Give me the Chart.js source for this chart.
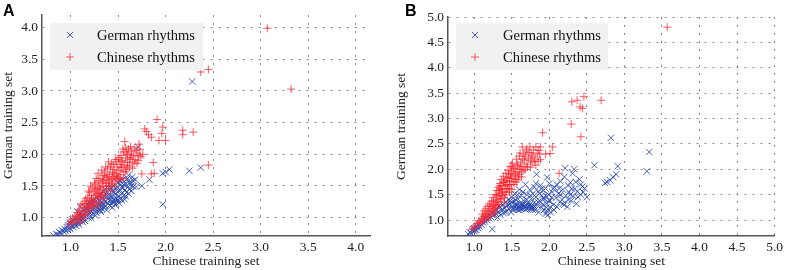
<!DOCTYPE html>
<html>
<head>
<meta charset="utf-8">
<script src="https://cdn.jsdelivr.net/npm/chart.js@4.4.1/dist/chart.umd.min.js"></script>
<style>
  body { margin: 0; background: #fff; }
  .wrap { display: flex; width: 786px; height: 270px; }
  .panel { width: 393px; height: 270px; }
</style>
</head>
<body>
<div class="wrap">
  <div class="panel"><canvas id="chartA" width="393" height="270"></canvas></div>
  <div class="panel"><canvas id="chartB" width="393" height="270"></canvas></div>
</div>
<script>
// Data
const seriesNames = ['German rhythms', 'Chinese rhythms'];
const xTitle = 'Chinese training set';
const yTitle = 'German training set';

const ticksA = [1.0, 1.5, 2.0, 2.5, 3.0, 3.5, 4.0];
const ticksB = [1.0, 1.5, 2.0, 2.5, 3.0, 3.5, 4.0, 4.5, 5.0];

const germanA = [
  [0.82,0.72],[0.85,0.74],[0.87,0.73],[0.88,0.77],[0.9,0.76],[0.91,0.8],[0.93,0.78],[0.94,0.82],[0.95,0.79],[0.96,0.85],
  [0.97,0.81],[0.98,0.88],[0.99,0.84],[1.0,0.82],[1.0,0.9],[1.01,0.87],[1.02,0.93],[1.03,0.85],[1.03,0.96],[1.04,0.89],
  [1.05,0.92],[1.05,1.0],[1.06,0.87],[1.07,0.95],[1.08,1.03],[1.08,0.91],[1.09,0.98],[1.1,1.06],[1.1,0.94],[1.1,1.18],
  [1.11,1.01],[1.12,0.97],[1.12,1.09],[1.13,1.04],[1.14,1.12],[1.14,0.99],[1.15,1.07],[1.16,1.15],[1.16,1.02],[1.17,1.1],
  [1.18,1.05],[1.18,1.19],[1.19,1.13],[1.2,1.08],[1.2,1.24],[1.21,1.16],[1.22,1.1],[1.22,1.21],[1.23,1.14],[1.24,1.28],
  [1.24,1.07],[1.25,1.19],[1.26,1.13],[1.26,1.25],[1.27,1.17],[1.28,1.32],[1.28,1.11],[1.29,1.22],[1.3,1.16],[1.3,1.27],
  [1.31,1.36],[1.31,1.2],[1.32,1.24],[1.33,1.14],[1.33,1.3],[1.34,1.41],[1.35,1.21],[1.35,1.28],[1.36,1.34],[1.37,1.18],
  [1.37,1.26],[1.38,1.39],[1.39,1.23],[1.4,1.31],[1.4,1.45],[1.41,1.27],[1.42,1.36],[1.43,1.22],[1.43,1.33],[1.44,1.42],
  [1.45,1.29],[1.45,1.5],[1.46,1.25],[1.47,1.37],[1.48,1.31],[1.48,1.46],[1.49,1.27],[1.5,1.4],[1.5,1.55],[1.51,1.34],
  [1.52,1.44],[1.53,1.3],[1.53,1.52],[1.54,1.38],[1.55,1.47],[1.55,1.6],[1.56,1.35],[1.57,1.43],[1.58,1.53],[1.59,1.4],
  [1.6,1.62],[1.6,1.48],[1.61,1.67],[1.62,1.45],[1.63,1.56],[1.64,1.5],[1.65,1.64],[1.66,1.49],[1.69,1.49],[1.71,2.12],
  [1.75,1.5],[1.83,1.6],[1.97,1.21],[1.97,1.7],[2.0,1.72],[2.04,1.76],[2.25,1.74],[2.37,1.79],[2.28,3.15],
  [1.12,1.0],[1.17,1.14],[1.21,1.03],[1.23,1.25],[1.27,1.08],[1.29,1.3],[1.32,1.09],[1.34,1.19],[1.36,1.45],[1.38,1.12],
  [1.41,1.19],[1.42,1.5],[1.44,1.16],[1.46,1.4],[1.47,1.2],[1.49,1.48],[1.51,1.23],[1.52,1.58],[1.54,1.27],[1.56,1.52],
  [1.57,1.29],[1.59,1.6],[1.61,1.38],[1.62,1.55],[1.64,1.42],[1.58,1.34],[1.48,1.22],[1.39,1.35],[1.26,1.03],[1.15,0.95],
  [1.06,0.97],[0.99,0.93],[1.09,0.89],[1.19,1.0],[1.25,1.3],[1.33,1.38],[1.43,1.46],[1.52,1.6],[1.18,1.23],[1.07,1.1],
  [1.02,0.97],[1.44,1.25],[1.35,1.16],[1.54,1.49],[1.66,1.58],[1.68,1.6],[1.5,1.28],[1.31,1.12],[1.22,0.99],[1.13,0.93]
];

const chineseA = [
  [0.98,0.9],[1.0,0.94],[1.02,0.98],[1.03,0.91],[1.05,1.02],[1.06,0.96],[1.07,1.08],[1.08,1.0],[1.09,1.12],[1.1,0.93],
  [1.1,1.05],[1.11,1.2],[1.12,1.1],[1.13,0.98],[1.14,1.16],[1.15,1.26],[1.15,1.05],[1.16,1.12],[1.17,1.22],[1.18,1.32],
  [1.18,1.08],[1.19,1.18],[1.2,1.27],[1.2,1.4],[1.21,1.14],[1.22,1.23],[1.22,1.35],[1.23,1.47],[1.24,1.2],[1.24,1.3],
  [1.25,1.42],[1.26,1.53],[1.26,1.25],[1.27,1.36],[1.28,1.46],[1.28,1.18],[1.29,1.58],[1.29,1.32],[1.3,1.4],[1.3,1.5],
  [1.31,1.24],[1.31,1.62],[1.32,1.44],[1.32,1.34],[1.33,1.55],[1.34,1.67],[1.34,1.4],[1.35,1.49],[1.35,1.6],[1.36,1.72],
  [1.36,1.36],[1.37,1.54],[1.38,1.64],[1.38,1.45],[1.39,1.77],[1.4,1.58],[1.4,1.5],[1.41,1.68],[1.42,1.8],[1.42,1.42],
  [1.43,1.6],[1.44,1.72],[1.44,1.53],[1.45,1.84],[1.46,1.65],[1.46,1.76],[1.47,1.58],[1.48,1.7],[1.48,1.88],[1.49,1.8],
  [1.5,1.63],[1.5,1.92],[1.51,1.74],[1.52,1.84],[1.53,1.68],[1.53,1.98],[1.54,1.79],[1.55,1.9],[1.56,1.72],[1.56,2.04],
  [1.57,1.83],[1.57,2.2],[1.58,1.94],[1.59,1.76],[1.6,2.0],[1.6,1.87],[1.61,2.08],[1.62,1.8],[1.63,1.95],[1.64,2.05],
  [1.65,1.88],[1.66,1.98],[1.67,2.1],[1.68,1.92],[1.7,2.02],[1.7,1.86],[1.72,2.16],[1.73,2.08],[1.74,1.96],[1.75,1.69],
  [1.76,2.0],[1.78,2.4],[1.8,2.36],[1.82,2.31],[1.85,2.27],[1.85,1.69],[1.87,1.87],[1.88,1.7],[1.91,2.55],[1.93,2.22],
  [1.96,2.33],[1.97,2.43],[2.0,2.22],[2.18,2.38],[2.18,2.31],[2.29,2.35],[2.45,1.83],[2.37,3.3],[2.45,3.34],[3.07,3.99],
  [3.32,3.03],
  [1.07,1.03],[1.13,1.22],[1.16,1.3],[1.19,1.42],[1.21,1.5],[1.23,1.2],[1.25,1.55],[1.27,1.62],[1.29,1.7],[1.31,1.48],
  [1.33,1.75],[1.34,1.58],[1.36,1.66],[1.37,1.8],[1.39,1.64],[1.41,1.55],[1.43,1.85],[1.45,1.7],[1.47,1.92],[1.49,1.66],
  [1.51,1.95],[1.52,1.6],[1.54,1.88],[1.55,2.08],[1.58,1.73],[1.59,2.02],[1.62,1.92],[1.63,2.12],[1.65,1.78],[1.69,2.06],
  [1.71,1.9],[1.72,1.98],[1.58,2.1],[1.48,1.62],[1.38,1.5],[1.28,1.38],[1.18,1.16],[1.12,1.03],[1.26,1.44],[1.4,1.88],
  [1.46,1.5],[1.53,1.8],[1.6,1.82],[1.67,1.85],[1.35,1.3],[1.44,1.62],[1.3,1.33],[1.22,1.28],[1.56,1.62],[1.64,1.99]
];

const germanB = [
  [0.92,0.72],[0.94,0.76],[0.96,0.74],[0.97,0.79],[0.98,0.82],[1.0,0.78],[1.0,0.84],[1.01,0.81],[1.02,0.86],[1.03,0.8],
  [1.04,0.88],[1.05,0.84],[1.06,0.91],[1.07,0.87],[1.08,0.94],[1.1,0.9],[1.1,0.97],[1.12,0.95],[1.13,1.01],[1.14,0.97],
  [1.15,1.04],[1.17,1.0],[1.18,1.07],[1.2,1.03],[1.2,1.1],[1.22,1.06],[1.24,0.82],[1.24,1.13],[1.26,1.09],[1.27,1.17],
  [1.29,1.12],[1.3,1.21],[1.31,1.05],[1.32,1.16],[1.34,1.25],[1.35,1.1],[1.36,1.19],[1.38,1.3],[1.39,1.14],[1.4,1.24],
  [1.42,1.35],[1.43,1.18],[1.44,1.28],[1.45,1.4],[1.46,1.22],[1.48,1.32],[1.49,1.15],[1.5,1.45],[1.5,1.26],[1.52,1.2],
  [1.53,1.36],[1.54,1.52],[1.55,1.27],[1.56,1.22],[1.57,1.3],[1.58,1.42],[1.59,1.25],[1.6,1.6],[1.6,1.2],[1.61,1.33],
  [1.62,1.27],[1.63,1.48],[1.64,1.23],[1.65,1.3],[1.66,1.38],[1.67,1.26],[1.68,1.7],[1.68,1.21],[1.69,1.29],[1.7,1.5],
  [1.71,1.24],[1.72,1.33],[1.73,1.28],[1.74,1.6],[1.75,1.22],[1.76,1.42],[1.77,1.27],[1.78,1.52],[1.79,1.25],[1.8,1.34],
  [1.8,1.65],[1.81,1.2],[1.82,1.45],[1.83,1.9],[1.84,1.29],[1.85,1.56],[1.86,1.15],[1.87,1.38],[1.88,1.68],[1.89,1.25],
  [1.9,1.48],[1.91,1.3],[1.92,1.58],[1.93,1.2],[1.94,1.42],[1.95,1.12],[1.95,1.62],[1.96,1.33],[1.97,1.84],[1.98,1.1],
  [1.99,1.5],[2.0,1.24],[2.0,1.72],[2.01,1.38],[2.02,1.15],[2.04,1.55],[2.05,1.3],[2.07,1.64],[2.09,1.44],[2.1,1.26],
  [2.12,1.52],[2.14,1.35],[2.15,1.76],[2.17,1.4],[2.18,1.6],[2.2,1.3],[2.21,2.02],[2.22,1.48],[2.24,1.26],[2.25,1.68],
  [2.26,1.55],[2.28,1.74],[2.29,1.38],[2.31,1.92],[2.32,1.47],[2.33,2.0],[2.34,1.62],[2.36,1.32],[2.37,1.56],[2.4,1.8],
  [2.42,1.5],[2.44,1.66],[2.47,1.62],[2.5,1.45],[2.6,2.08],[2.74,1.73],[2.77,1.75],[2.81,1.78],[2.85,1.85],[2.89,1.9],
  [2.91,2.06],[2.82,2.62],[3.3,1.96],[3.33,2.34],
  [1.52,1.24],[1.55,1.31],[1.58,1.2],[1.6,1.28],[1.62,1.22],[1.64,1.3],[1.66,1.24],[1.68,1.27],[1.7,1.22],[1.72,1.26],
  [1.74,1.31],[1.76,1.25],[1.78,1.2],[1.55,1.4],[1.65,1.55],[1.75,1.48],[1.85,1.35],[1.95,1.48],[2.05,1.62],[2.15,1.5],
  [2.25,1.4],[2.35,1.75],[2.45,1.55],[1.9,1.62],[2.0,1.38],[2.1,1.7],[2.2,1.85],[2.3,1.62],[2.38,1.45],[1.97,1.17],
  [1.92,1.42],[2.06,1.2],[2.18,1.32],[2.28,1.5],[1.45,1.3],[1.38,1.2],[1.33,1.28],[1.42,1.15],[1.48,1.38],[1.28,1.2],
  [1.82,1.72],[1.87,1.52],[1.7,1.4],[2.13,1.62],[2.42,1.7],[1.58,1.5],[1.5,1.35],[1.8,1.27],[1.96,1.25],[2.03,1.45]
];

const chineseB = [
  [0.97,0.82],[1.0,0.88],[1.02,0.86],[1.04,0.93],[1.06,0.98],[1.08,0.95],[1.1,1.03],[1.11,1.12],[1.12,0.99],[1.13,1.18],
  [1.14,1.07],[1.15,1.22],[1.16,1.13],[1.17,1.03],[1.18,1.27],[1.19,1.17],[1.2,1.08],[1.2,1.32],[1.21,1.22],[1.22,1.13],
  [1.23,1.37],[1.24,1.26],[1.25,1.17],[1.25,1.44],[1.26,1.3],[1.27,1.21],[1.28,1.5],[1.28,1.34],[1.29,1.25],[1.3,1.58],
  [1.3,1.4],[1.31,1.3],[1.32,1.47],[1.32,1.65],[1.33,1.36],[1.34,1.52],[1.34,1.72],[1.35,1.42],[1.36,1.6],[1.36,1.8],
  [1.37,1.48],[1.38,1.67],[1.38,1.55],[1.39,1.86],[1.4,1.74],[1.4,1.45],[1.41,1.62],[1.42,1.92],[1.42,1.78],[1.43,1.55],
  [1.44,1.7],[1.45,1.98],[1.45,1.84],[1.46,1.62],[1.47,1.76],[1.48,1.9],[1.48,2.06],[1.49,1.7],[1.5,1.82],[1.5,1.96],
  [1.51,2.12],[1.52,1.75],[1.53,1.88],[1.54,2.02],[1.55,1.8],[1.56,2.2],[1.57,1.94],[1.58,2.08],[1.59,1.85],[1.6,2.26],
  [1.6,2.0],[1.62,2.14],[1.63,1.95],[1.64,2.44],[1.65,2.05],[1.66,2.3],[1.67,2.18],[1.68,2.0],[1.69,2.36],[1.7,2.1],
  [1.72,2.22],[1.74,2.44],[1.75,2.04],[1.76,2.3],[1.78,2.26],[1.8,2.15],[1.82,2.44],[1.82,2.08],[1.84,2.32],[1.86,2.37],
  [1.88,2.44],[1.88,2.19],[1.91,2.72],[1.95,2.3],[2.01,2.31],[2.04,2.44],[2.13,1.92],[2.29,2.89],[2.3,3.33],[2.37,3.36],
  [2.41,3.23],[2.44,3.2],[2.42,2.64],[2.46,3.43],[2.69,3.36],[3.57,4.8],
  [1.18,1.12],[1.21,1.28],[1.24,1.18],[1.26,1.38],[1.28,1.28],[1.3,1.48],[1.32,1.3],[1.33,1.58],[1.35,1.68],[1.37,1.55],
  [1.39,1.75],[1.41,1.5],[1.43,1.82],[1.44,1.62],[1.46,1.92],[1.47,1.7],[1.49,1.85],[1.5,1.6],[1.52,2.02],[1.53,1.7],
  [1.55,1.92],[1.57,2.1],[1.58,1.8],[1.6,1.9],[1.62,2.05],[1.64,2.2],[1.66,1.98],[1.68,2.26],[1.71,2.05],[1.73,2.33],
  [1.77,2.14],[1.79,2.38],[1.81,2.22],[1.85,2.16],[1.87,2.3],[1.4,1.35],[1.36,1.42],[1.27,1.12],[1.15,1.05],[1.12,1.08],
  [1.09,0.98],[1.47,1.55],[1.56,1.75],[1.63,1.85],[1.34,1.62],[1.42,1.68],[1.5,2.05],[1.61,2.32],[1.75,2.18],[1.7,2.4]
];

const blue = 'rgba(40,70,175,0.85)';
const red = 'rgba(250,40,50,0.75)';
const serif = 'Liberation Serif';

// Legend drawn inside the plot, on a grey box
const boxLegend = {
  id: 'boxLegend',
  afterDraw(chart, args, opts) {
    const ctx = chart.ctx;
    ctx.save();
    ctx.fillStyle = '#f1f1f1';
    ctx.fillRect(opts.x, opts.y, opts.w, opts.h);
    chart.data.datasets.forEach((ds, i) => {
      const cx = opts.markX, cy = opts.y + 12 + i * 22;
      ctx.strokeStyle = ds.borderColor;
      ctx.lineWidth = 1;
      ctx.beginPath();
      if (ds.pointStyle === 'crossRot') {
        ctx.moveTo(cx - 3, cy - 3); ctx.lineTo(cx + 3, cy + 3);
        ctx.moveTo(cx - 3, cy + 3); ctx.lineTo(cx + 3, cy - 3);
      } else {
        ctx.moveTo(cx - 4, cy); ctx.lineTo(cx + 4, cy);
        ctx.moveTo(cx, cy - 4); ctx.lineTo(cx, cy + 4);
      }
      ctx.stroke();
      ctx.fillStyle = '#111';
      ctx.font = '14.5px "' + serif + '"';
      ctx.textBaseline = 'middle';
      ctx.fillText(ds.label, opts.textX, cy + 1);
    });
    // panel letter
    ctx.fillStyle = '#000';
    ctx.font = 'bold 16px "Liberation Sans"';
    ctx.textBaseline = 'top';
    ctx.fillText(opts.letter, opts.letterX, 4);
    ctx.restore();
  }
};

function axis(min, max, tickVals, title, isY, fit) {
  return {
    type: 'linear', min: min, max: max,
    afterBuildTicks: s => { s.ticks = tickVals.map(v => ({ value: v })); },
    afterFit: fit,
    ticks: {
      color: '#222', autoSkip: false, maxRotation: 0, padding: isY ? 4 : 3,
      font: { family: serif, size: 13.5 },
      callback: v => Number(v).toFixed(1)
    },
    grid: { color: '#8a8a8a', lineWidth: 1, drawTicks: false },
    border: { color: '#555', width: 1.5, dash: [2, 6] },
    title: {
      display: true, text: title, color: '#222',
      font: { family: serif, size: 13.5 }, padding: { top: 0, bottom: 0 }
    }
  };
}

function makeChart(id, german, chinese, xr, yr, xt, yt, yWidth, pad, legend) {
  return new Chart(document.getElementById(id), {
    type: 'scatter',
    data: {
      datasets: [
        { label: seriesNames[0], data: german.map(p => ({ x: p[0], y: p[1] })), pointStyle: 'crossRot',
          pointRadius: 4.5, borderColor: blue, backgroundColor: blue, borderWidth: 1, order: 1 },
        { label: seriesNames[1], data: chinese.map(p => ({ x: p[0], y: p[1] })), pointStyle: 'cross',
          pointRadius: 4, borderColor: red, backgroundColor: red, borderWidth: 1, order: 0 }
      ]
    },
    options: {
      responsive: false, animation: false,
      layout: { padding: pad },
      plugins: { legend: { display: false }, tooltip: { enabled: false }, boxLegend: legend },
      scales: {
        x: axis(xr[0], xr[1], xt, xTitle, false, s => { s.height = 34; }),
        y: axis(yr[0], yr[1], yt, yTitle, true, s => { s.width = yWidth; })
      }
    },
    plugins: [boxLegend]
  });
}

makeChart('chartA', germanA, chineseA, [0.7, 4.15], [0.71, 4.2], ticksA, ticksA, 42,
  { top: 15, right: 23, left: 0, bottom: 0 },
  { x: 50, y: 23, w: 153, h: 47, markX: 70, textX: 97, letter: 'A', letterX: 3 });

makeChart('chartB', germanB, chineseB, [0.65, 5.0], [0.685, 5.0], ticksB, ticksB, 55,
  { top: 17, right: 8, left: 0, bottom: 0 },
  { x: 63, y: 23, w: 152, h: 47, markX: 82, textX: 110, letter: 'B', letterX: 12 });
</script>
</body>
</html>
